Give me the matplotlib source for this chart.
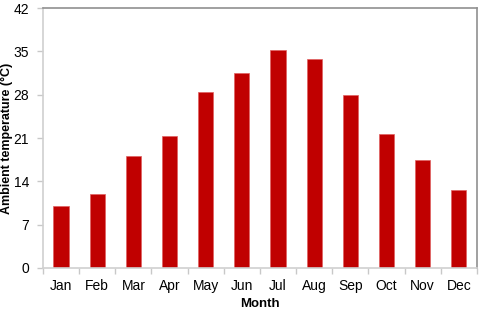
import matplotlib
matplotlib.use('Agg')
import matplotlib.pyplot as plt
import numpy as np

plt.rcParams['font.family'] = ['Liberation Sans', 'DejaVu Sans']

months = ['Jan', 'Feb', 'Mar', 'Apr', 'May', 'Jun', 'Jul', 'Aug', 'Sep', 'Oct', 'Nov', 'Dec']
temps = [10.0, 11.9, 18.1, 21.3, 28.4, 31.5, 35.3, 33.8, 27.9, 21.7, 17.4, 12.6]
yticks = [0, 7, 14, 21, 28, 35, 42]

fig = plt.figure(figsize=(4.8, 3.13), dpi=100)
ax = fig.add_axes([0.0896, 0.144, 0.904, 0.830])

x = np.arange(len(months))
ax.bar(x, temps, width=0.42, color='#c00000', edgecolor='#e06060', linewidth=0.5)

ax.set_xlim(-0.5, len(months) - 0.5)
ax.set_ylim(0, 42)
ax.set_yticks(yticks)
ax.set_xticks(x)
ax.set_xticklabels(months)
ax.set_xticks(np.arange(-0.5, len(months) + 0.5, 1), minor=True)
ax.tick_params(axis='x', which='major', length=0, pad=8, labelsize=10)
ax.tick_params(axis='x', which='minor', length=4, color='#c8c8c8', width=1)
ax.tick_params(axis='y', length=4, color='#c8c8c8', width=1, labelsize=10, pad=6)

for s in ['left', 'bottom']:
    ax.spines[s].set_color('#d0d0d0')
    ax.spines[s].set_linewidth(1.2)
for s in ['top', 'right']:
    ax.spines[s].set_color('#909090')
    ax.spines[s].set_linewidth(1.2)

ax.set_xlabel('Month', fontweight='bold', fontsize=9.5)
ax.xaxis.set_label_coords(0.5, -0.115)
ax.set_ylabel('Ambient temperature (\u00b0C)', fontweight='bold', fontsize=9)
ax.yaxis.set_label_coords(-0.069, 0.5)

fig.savefig('out.png', dpi=100)
